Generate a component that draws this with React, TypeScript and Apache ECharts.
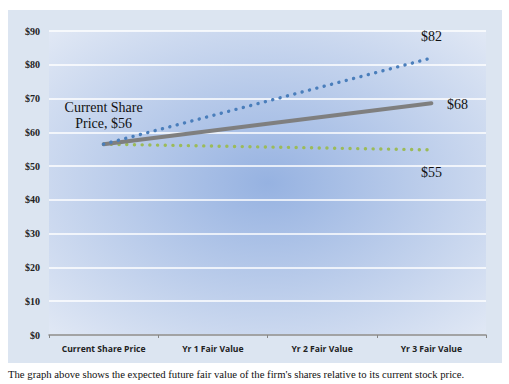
import React, { useEffect, useRef } from "react";
import * as echarts from "echarts";

const categories = ["Current Share Price", "Yr 1 Fair Value", "Yr 2 Fair Value", "Yr 3 Fair Value"];
const highCase = [56.5, null, null, 82];
const baseCase = [56.5, null, null, 68.6];
const lowCase = [56.5, null, null, 54.8];
const endLabels = { high: "$82", base: "$68", low: "$55" };
const startLabel = "Current Share\nPrice, $56";
const caption =
  "The graph above shows the expected future fair value of the firm's shares relative to its current stock price.";

export default function App() {
  const ref = useRef<HTMLDivElement>(null);
  useEffect(() => {
    if (!ref.current) return;
    const chart = echarts.init(ref.current, null, { renderer: "svg" });
    const serif = "Liberation Serif, DejaVu Serif, serif";
    const labelText = { fontFamily: serif, fontSize: 14, color: "#111", lineHeight: 16 };
    const hiddenSym = {
      symbol: "circle",
      symbolSize: 1,
      showSymbol: true,
      showAllSymbol: true,
      itemStyle: { color: "rgba(0,0,0,0)", borderWidth: 0 },
    };
    chart.setOption({
      animation: false,
      graphic: [
        { type: "rect", shape: { x: 8, y: 10, width: 494, height: 353 }, style: { fill: "#dce5f1" }, z: -10 },
        {
          type: "text",
          x: 8,
          y: 374,
          style: {
            text: caption,
            fontFamily: serif,
            fontSize: 10.7,
            fill: "#111",
            verticalAlign: "middle",
          },
        },
      ],
      grid: {
        left: 49,
        right: 23,
        top: 31,
        bottom: 49,
        show: true,
        borderWidth: 0,
        backgroundColor: {
          type: "radial",
          x: 0.5,
          y: 0.5,
          r: 0.72,
          colorStops: [
            { offset: 0, color: "#96b2e1" },
            { offset: 1, color: "#e2e9f5" },
          ],
        },
      },
      xAxis: {
        type: "category",
        data: categories,
        boundaryGap: true,
        axisLine: { lineStyle: { color: "#868686", width: 1.5 } },
        axisTick: { show: true, length: 3, lineStyle: { color: "#868686" } },
        axisLabel: {
          interval: 0,
          hideOverlap: false,
          fontFamily: "Open Sans",
          fontWeight: "bold",
          fontSize: 8.6,
          color: "#222",
          margin: 9,
        },
      },
      yAxis: {
        type: "value",
        min: 0,
        max: 90,
        interval: 10,
        axisLine: { show: false },
        axisTick: { show: false },
        splitLine: { lineStyle: { color: "#ffffff", width: 1.5 } },
        axisLabel: {
          formatter: "${value}",
          fontFamily: serif,
          fontWeight: "bold",
          fontSize: 10,
          color: "#222",
          margin: 9,
        },
      },
      series: [
        {
          type: "line",
          data: lowCase,
          connectNulls: true,
          ...hiddenSym,
          lineStyle: { color: "#9bbb59", width: 3.4, type: [0.1, 7.6], cap: "round" },
          label: {
            show: true,
            position: "bottom",
            distance: 14,
            formatter: (p: any) => (p.dataIndex === 3 ? endLabels.low : ""),
            ...labelText,
          },
        },
        {
          type: "line",
          data: baseCase,
          connectNulls: true,
          ...hiddenSym,
          lineStyle: { color: "#7f7f7f", width: 4, cap: "round" },
          label: {
            show: true,
            distance: 12,
            position: "top",
            formatter: (p: any) => (p.dataIndex === 0 ? startLabel : p.dataIndex === 3 ? endLabels.base : ""),
            ...labelText,
          },
          labelLayout: (params: any) => (params.dataIndex === 3 ? { dx: 26, dy: 22 } : {}),
        },
        {
          type: "line",
          data: highCase,
          connectNulls: true,
          ...hiddenSym,
          lineStyle: { color: "#4a7ebb", width: 3.4, type: [0.1, 7.5], cap: "round" },
          label: {
            show: true,
            position: "top",
            distance: 13,
            formatter: (p: any) => (p.dataIndex === 3 ? endLabels.high : ""),
            ...labelText,
          },
        },
      ],
    });
    return () => chart.dispose();
  }, []);
  return <div ref={ref} style={{ position: "absolute", left: 0, top: 0, width: 509, height: 384 }} />;
}
